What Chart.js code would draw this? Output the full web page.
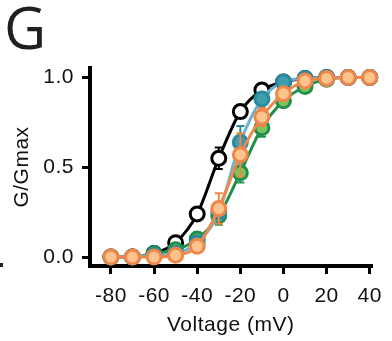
<!DOCTYPE html>
<html>
<head>
<meta charset="utf-8">
<script src="https://cdn.jsdelivr.net/npm/chart.js@4.4.1/dist/chart.umd.min.js"></script>
<style>
  html, body { margin: 0; padding: 0; background: #fff; }
  #wrap { position: relative; width: 392px; height: 341px; }
  #panel { position: absolute; left: 4px; top: -2px; font: 400 58px "Open Sans", sans-serif; line-height: 58px; color: #231f20; }
  #frag { position: absolute; left: 0; top: 263px; width: 3px; height: 4px; background: #222; }
</style>
</head>
<body>
<div id="wrap">
  <canvas id="myChart" width="392" height="341"></canvas>
  <div id="panel">G</div>
  <div id="frag"></div>
</div>
<script>
// Dados
var voltage = [-80, -70, -60, -50, -40, -30, -20, -10, 0, 10, 20, 30, 40];
var xTicks = [-80, -60, -40, -20, 0, 20, 40];
var yTicks = [0, 0.5, 1.0];

var controle = [0, 0, 0.02, 0.08, 0.24, 0.55, 0.81, 0.93, 0.975, 0.995, 1, 1, 1];
var controleSem = [0, 0, 0, 0, 0.02, 0.06, 0.02, 0, 0, 0, 0, 0, 0];

var verde = [0, 0, 0.02, 0.04, 0.10, 0.23, 0.47, 0.72, 0.87, 0.95, 0.99, 1, 1];
var verdeSem = [0, 0, 0, 0, 0.02, 0.05, 0.055, 0.05, 0.02, 0.01, 0, 0, 0];

var azul = [0, 0, 0.01, 0.02, 0.08, 0.25, 0.64, 0.88, 0.975, 0.995, 1, 1, 1];
var azulSem = [0, 0, 0, 0, 0.01, 0.03, 0.09, 0.03, 0.01, 0, 0, 0, 0];

var laranja = [0, 0, 0, 0.01, 0.06, 0.27, 0.57, 0.78, 0.91, 0.98, 0.995, 1, 1];
var laranjaSem = [0, 0, 0, 0, 0.01, 0.085, 0.12, 0.05, 0.03, 0.01, 0, 0, 0];

function pontos(valores) {
    return voltage.map(function (v, i) { return { x: v, y: valores[i] }; });
}

function serie(valores, sem, linha, borda, fundo, ordem) {
    return {
        data: pontos(valores),
        sem: sem,
        borderColor: linha,
        borderWidth: 3,
        pointBorderColor: borda,
        pointBackgroundColor: fundo,
        pointBorderWidth: 3,
        pointRadius: 7,
        pointHoverRadius: 7,
        cubicInterpolationMode: 'monotone',
        fill: false,
        clip: false,
        order: ordem
    };
}

// Barras de erro desenhadas antes de cada série (os marcadores ficam por cima)
var errorBars = {
    id: 'errorBars',
    beforeDatasetDraw: function (chart, args) {
        var ds = chart.data.datasets[args.index];
        if (!ds.sem) return;
        var ctx = chart.ctx, xs = chart.scales.x, ys = chart.scales.y;
        ctx.save();
        ctx.strokeStyle = ds.pointBorderColor;
        ctx.lineWidth = 2;
        ds.sem.forEach(function (e, i) {
            if (!e) return;
            var px = xs.getPixelForValue(voltage[i]);
            var yt = ys.getPixelForValue(ds.data[i].y + e);
            var yb = ys.getPixelForValue(ds.data[i].y - e);
            ctx.beginPath();
            ctx.moveTo(px, yt); ctx.lineTo(px, yb);
            ctx.moveTo(px - 4, yt); ctx.lineTo(px + 4, yt);
            ctx.moveTo(px - 4, yb); ctx.lineTo(px + 4, yb);
            ctx.stroke();
        });
        ctx.restore();
    }
};

// Espaçamento entre letras para aproximar a fonte da figura
var espacamento = {
    id: 'espacamento',
    beforeLayout: function (chart) { chart.ctx.letterSpacing = '0.5px'; },
    beforeDraw: function (chart) { chart.ctx.letterSpacing = '0.5px'; }
};

var fonte = { family: '"Liberation Sans", Arial, sans-serif', size: 21 };

const config = {
    type: 'line',
    data: {
        datasets: [
            serie(controle, controleSem, '#000000', '#000000', '#ffffff', 4),
            serie(verde, verdeSem, '#1f8f4a', '#1f8f4a', '#7cc35c', 3),
            serie(azul, azulSem, '#6ab5d5', '#2b8a9b', '#3f9db0', 2),
            serie(laranja, laranjaSem, '#f0874a', '#f0874a', '#fcc38c', 1)
        ]
    },
    options: {
        responsive: false,
        animation: false,
        events: [],
        layout: { padding: { left: 0, right: 11, top: 68, bottom: 0 } },
        plugins: { legend: { display: false }, tooltip: { enabled: false } },
        scales: {
            x: {
                type: 'linear',
                min: -89.7,
                max: 40.76,
                afterBuildTicks: function (s) { s.ticks = xTicks.map(function (v) { return { value: v }; }); },
                afterFit: function (s) { s.height = 75; },
                grid: { drawOnChartArea: false, drawTicks: true, tickLength: 8, lineWidth: 3, color: '#000' },
                border: { display: true, width: 4, color: '#000' },
                ticks: { color: '#111', font: fonte, padding: 10, maxRotation: 0,
                    callback: function (v) { return String(v); } },
                title: { display: true, text: 'Voltage (mV)', color: '#111', font: fonte, padding: { top: 0, bottom: 3 } }
            },
            y: {
                min: -0.05,
                max: 1.053,
                afterBuildTicks: function (s) { s.ticks = yTicks.map(function (v) { return { value: v }; }); },
                afterFit: function (s) { s.width = 90; },
                grid: { drawOnChartArea: false, drawTicks: true, tickLength: 8, lineWidth: 3, color: '#000' },
                border: { display: true, width: 4, color: '#000' },
                ticks: { color: '#111', font: fonte, padding: 8,
                    callback: function (v) { return v.toFixed(1); } },
                title: { display: true, text: 'G/Gmax', color: '#111', font: fonte, padding: { top: 9.5, bottom: 0 } }
            }
        }
    },
    plugins: [errorBars, espacamento]
};

const ctx = document.getElementById('myChart').getContext('2d');
var chart = new Chart(ctx, config);
</script>
</body>
</html>
